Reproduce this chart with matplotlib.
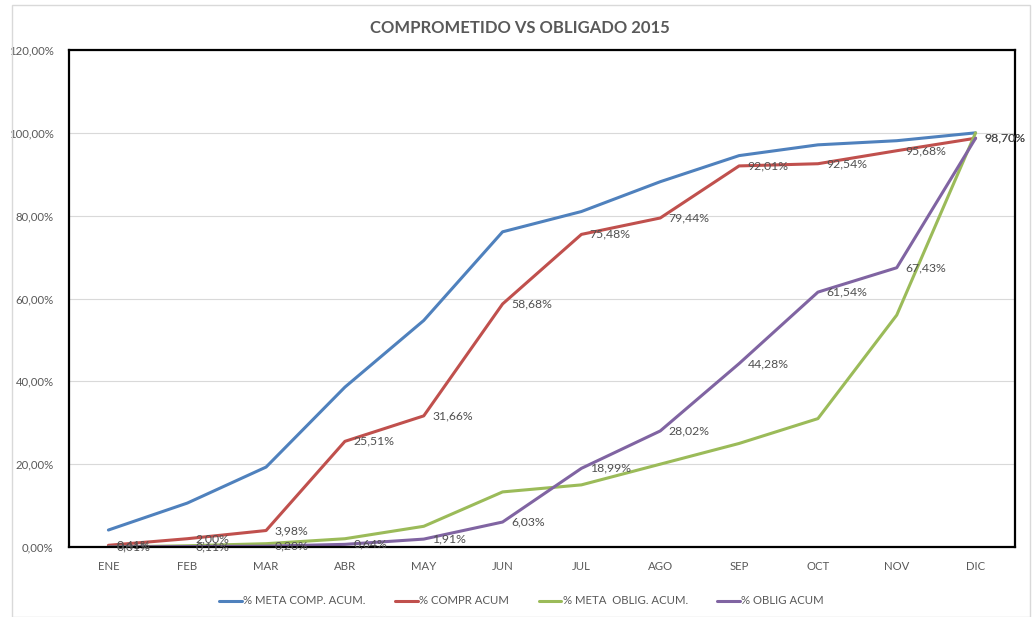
import numpy as np
import matplotlib
matplotlib.use('Agg')
import matplotlib.pyplot as plt
from matplotlib.patches import Rectangle
from matplotlib.ticker import FuncFormatter

# --------- Data ---------
months = ['ENE', 'FEB', 'MAR', 'ABR', 'MAY', 'JUN', 'JUL', 'AGO', 'SEP', 'OCT', 'NOV', 'DIC']
meta_comp = [4.1, 10.6, 19.3, 38.6, 54.7, 76.1, 81.0, 88.2, 94.5, 97.1, 98.1, 100.0]
compr = [0.41, 2.00, 3.98, 25.51, 31.66, 58.68, 75.48, 79.44, 92.01, 92.54, 95.68, 98.70]
meta_oblig = [0.0, 0.3, 0.8, 2.0, 5.0, 13.3, 15.0, 20.0, 25.0, 31.0, 56.0, 100.0]
oblig = [0.01, 0.11, 0.20, 0.64, 1.91, 6.03, 18.99, 28.02, 44.28, 61.54, 67.43, 98.70]

series_names = ['% META COMP. ACUM.', '% COMPR ACUM', '% META  OBLIG. ACUM.', '% OBLIG ACUM']
colors = ['#4F81BD', '#C0504D', '#9BBB59', '#8064A2']

plt.rcParams['font.family'] = ['Lato', 'DejaVu Sans']
text_gray = '#595959'


def pct(v, _=None):
    return f'{v:.2f}%'.replace('.', ',')


fig = plt.figure(figsize=(10.33, 6.17), dpi=100)
# outer chart border
fig.patches.append(Rectangle((12 / 1033, 0), 1018 / 1033, 1 - 5 / 617, transform=fig.transFigure,
                             fill=False, edgecolor='#D9D9D9', linewidth=1))

ax = fig.add_axes([69 / 1033, 1 - 547 / 617, 946 / 1033, 497 / 617])
x = np.arange(len(months))

for vals, name, c in zip([meta_comp, compr, meta_oblig, oblig], series_names, colors):
    ax.plot(x, vals, color=c, linewidth=2.2, label=name, solid_capstyle='round')

# data labels on the two "actual" series
for vals in (compr, oblig):
    for xi, v in zip(x, vals):
        ax.annotate(pct(v), (xi, v), xytext=(6, 0), textcoords='offset points',
                    ha='left', va='center', fontsize=8.8, color='#505050')

ax.set_xlim(-0.5, 11.5)
ax.set_ylim(0, 120)
ax.set_yticks(np.arange(0, 121, 20))
ax.yaxis.set_major_formatter(FuncFormatter(pct))
ax.set_xticks(x)
ax.set_xticklabels(months)
ax.tick_params(length=0, labelsize=8.2, colors=text_gray)
ax.tick_params(axis='x', pad=10)
ax.tick_params(axis='y', pad=11)
ax.grid(axis='y', color='#D9D9D9', linewidth=0.8)
ax.set_axisbelow(True)
for s in ax.spines.values():
    s.set_color('black')
    s.set_linewidth(1.6)

fig.text(0.503, 1 - 28 / 617, 'COMPROMETIDO VS OBLIGADO 2015', ha='center', va='center',
         fontsize=12, fontweight='bold', color=text_gray)

fig.legend(loc='center', bbox_to_anchor=(0.505, 1 - 601 / 617), ncol=4, frameon=False,
           fontsize=8.2, labelcolor=text_gray, handlelength=2.0, handletextpad=0.1,
           columnspacing=2.6)

fig.savefig('out.png', dpi=100)
